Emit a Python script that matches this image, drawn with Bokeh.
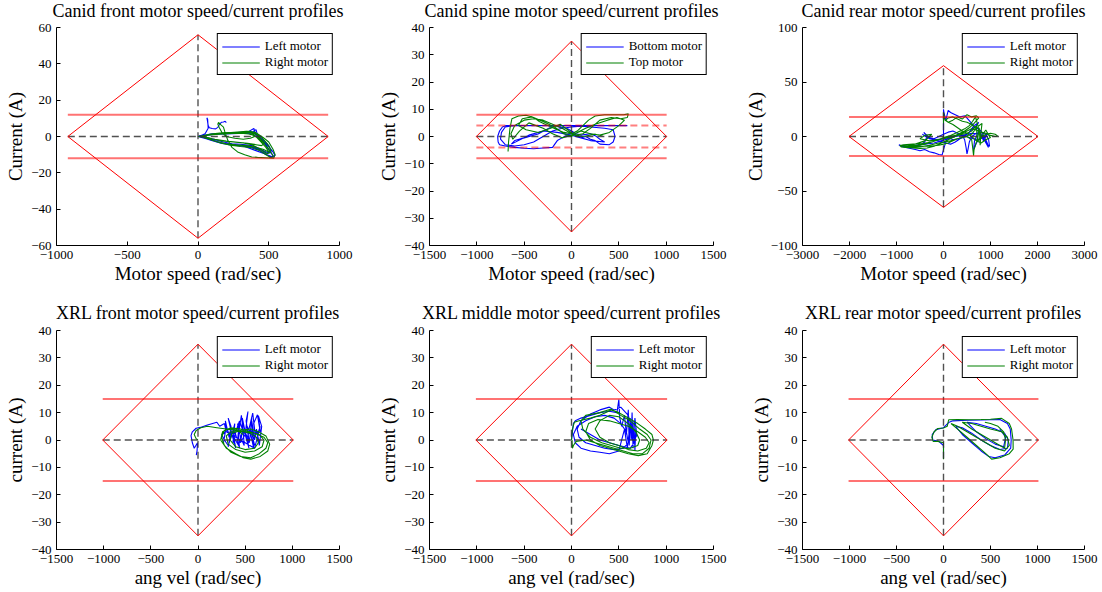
from bokeh.plotting import figure
from bokeh.layouts import column, row
from bokeh.models import Range1d, FixedTicker, CustomJSTickFormatter, Label
from bokeh.embed import file_html
from bokeh.resources import INLINE

# ---------------------------------------------------------------- data
# Canid front motors (speed in rad/s, current in A)
canid_front_left_speed = [200, 192, 180, 165, 150, 140, 125, 100, 80, 72, 66, 63, 68, 72, 50, 10,
                          0, 100, 200, 300, 380, 410, 420, 450, 490, 520, 535, 515, 470, 420, 360, 290, 220, 160, 100, 40,
                          0, 120, 240, 330, 400, 440, 470, 500, 510, 480, 430, 380, 300, 240, 180, 110, 50,
                          10, 150, 260, 350, 395, 405, 430, 455, 500, 530, 545, 520, 470, 400, 330, 260, 200, 140, 70, 0,
                          80, 180, 280, 360, 400, 430, 470, 500, 520, 490, 440, 380, 320, 250, 170, 90, 20]
canid_front_left_current = [7.6, 8.4, 8.0, 7.8, 6.5, 5.0, 4.2, 4.4, 4.8, 6.0, 9.0, 10.3, 9.5, 4.5, 1.5, 0.2,
                            0, 1.5, 1.8, 2.0, 2.2, 3.8, 1.0, -2.0, -6.0, -9.5, -11.3, -11.5, -9.0, -7.0, -5.5, -5.0, -4.5, -3.5, -2.0, -0.5,
                            0, 1.2, 1.6, 1.8, 1.5, -1.0, -3.5, -7.0, -9.0, -8.5, -6.5, -5.0, -4.3, -4.0, -3.0, -1.5, -0.3,
                            0.5, 1.4, 2.0, 2.4, 4.4, 1.5, -0.5, -2.5, -5.5, -8.5, -10.5, -11.0, -9.5, -7.5, -5.5, -4.8, -4.2, -3.2, -1.5, 0,
                            1.0, 1.6, 2.2, 2.6, 2.0, 0.0, -2.5, -5.0, -8.0, -8.8, -7.0, -5.8, -5.2, -4.6, -3.8, -2.0, -0.2]
canid_front_right_speed = [0, 60, 130, 200, 280, 350, 400, 430, 470, 510, 530, 520, 480, 430, 370, 300, 230, 160, 90, 30,
                           0, 70, 150, 240, 320, 380, 410, 440, 480, 505, 490, 440, 380, 320, 250, 170, 100, 40, 20,
                           90, 170, 260, 340, 400, 420, 460, 500, 530, 545, 535, 500, 420, 380, 330, 280, 240, 210, 190,
                           180, 160, 145, 140, 150, 170, 200, 260, 320, 370, 400, 380, 300, 200, 100, 30,
                           110, 210, 300, 370, 415, 450, 490, 515, 500, 460, 400, 340, 270, 200, 130, 60, 10,
                           120, 230, 330, 390, 420, 445, 470, 450, 410, 350, 280, 200, 120, 40]
canid_front_right_current = [0, 0.8, 1.5, 1.8, 2.0, 1.5, 0.5, -1.0, -4.0, -8.0, -10.5, -11.8, -10.0, -7.5, -6.0, -5.5, -4.8, -3.5, -1.8, -0.3,
                             0, 1.0, 1.8, 2.2, 2.5, 2.0, 0.0, -2.5, -6.0, -9.0, -9.5, -7.0, -4.5, -3.5, -3.0, -2.5, -1.2, 0.0, 0.2,
                             1.3, 2.0, 2.3, 2.8, 2.5, 1.5, -0.5, -3.0, -7.0, -10.0, -12.0, -11.8, -11.5, -11.3, -10.0, -8.5, -6.0, -2.0, 2.5,
                             5.2, 6.5, 7.8, 6.8, 5.0, 2.0, 0.0, -1.0, -1.5, -1.0, 0.0, 1.2, 1.8, 1.5, 1.0, 0.3,
                             1.4, 2.1, 2.6, 2.9, 1.8, -0.5, -4.0, -7.5, -8.5, -7.0, -5.8, -5.0, -4.6, -4.0, -2.8, -1.0, 0.1,
                             1.2, 1.9, 2.3, 2.0, 0.8, -1.5, -3.5, -5.0, -4.5, -3.8, -3.2, -2.5, -1.5, -0.4]

# Canid spine motors
canid_spine_bottom_speed = [590, 500, 400, 300, 200, 100, 0, -100, -200, -300, -400, -500, -600, -690, -730, -760, -780, -775, -760,
                            -700, -600, -500, -400, -300, -200, -180, -150, -100, -50, 0, 50, 100, 150, 200, 250, 300, 400, 440, 460,
                            440, 350, 200, 100, 0, -100, -200, -300, -400, -500, -600, -700, -750, -740, -700, -600, -400, -200, -50,
                            0, 50, 100, 200, 250, 300, 350, 200, 100, 0, -150, -300, -450, -635, -600, -500, -353, -194, -100, 0, 150, 300, 450, 580]
canid_spine_bottom_current = [4.0, 4.0, 4.0, 4.0, 4.0, 4.0, 4.0, 4.0, 4.0, 4.0, 4.0, 4.0, 4.0, 4.0, 3.5, 2.0, 0.0, -2.0, -3.0,
                              -3.5, -4.0, -4.3, -4.5, -4.2, -4.0, -3.0, -1.5, -0.5, 0.5, 1.5, 0.5, -0.5, 0.0, -1.0, -1.5, -2.8, -3.0, -2.0, 0.0,
                              2.5, 3.0, 3.5, 3.8, 3.5, 3.0, 2.0, 0.0, -2.0, -3.0, -3.5, -3.0, -1.0, 1.5, 3.5, 4.0, 4.0, 4.0, 3.0,
                              2.0, 1.0, 0.5, 1.0, 0.3, -1.0, -2.0, -1.5, -0.5, 0.5, 1.5, 2.0, 0.5, -2.8, -1.5, -0.5, 0.9, 3.9, 4.0, 4.0, 4.0, 4.0, 4.0, 4.0]
canid_spine_top_speed = [-670, -665, -650, -630, -560, -480, -400, -340, -250, -150, -80, 0, 60, 120, 180, 250, 350, 450, 550, 600,
                         590, 520, 420, 300, 200, 120, 50, -20, -100, -200, -300, -400, -500, -600, -640, -620, -550, -450,
                         -300, -200, -100, 0, 100, 200, 300, 400, 500, 560, 480, 380, 250, 150, 60, 0, -80, -180, -300, -420,
                         -520, -560, -480, -350, -220, -120, -40, 30, 120, 250, 330]
canid_spine_top_current = [-5.5, -2.0, 3.0, 6.5, 7.5, 7.8, 7.0, 5.5, 4.0, 2.5, 1.5, 1.0, 2.0, 4.0, 6.0, 7.5, 8.0, 8.0, 8.0, 8.3,
                           7.0, 6.5, 7.0, 6.0, 3.0, 1.0, 0.5, 1.5, 3.0, 4.5, 6.0, 6.5, 6.0, 4.0, 1.0, -1.0, 2.0, 5.0,
                           3.0, 1.0, -0.5, 0.5, 2.0, 1.0, 0.5, 1.5, 4.0, 6.0, 7.0, 6.0, 4.5, 3.0, 1.5, 0.0, 1.0, 3.5, 5.5, 7.2,
                           6.5, 4.0, 2.5, 1.5, 3.0, 4.5, 2.5, 0.5, 0.0, 0.8, 0.2]

# Canid rear motors
canid_rear_left_speed = [0, 0, 0, 10, 50, 100, 150, 250, 350, 460, 520, 600, 700, 800, 900, 950, 980, 960, 900, 800, 700, 600,
                         550, 520, 500, 480, 450, 400, 300, 200, 100, 0, -100, -200, -300, -420, -350, -400, -500, -600, -700, -800,
                         -900, -950, -900, -800, -700, -600, -500, -400, -300, -200, -100, -30, 0, 50, 100, 200, 300, 400, 500, 600,
                         700, 750, 650, 550, 450, 350, 250, 150, 50, -100, -300, -450, -350, -200, 0, 200, 400, 600, 800, 957, 900, 800,
                         700, 640, 660, 700, 750, 800, 850, 900, 950, 850, 700, 550, 400, 250, 100, -50, -200, -400, -600, -800, -880]
canid_rear_left_current = [0, 10, 25, 22, 15, 24, 22, 20, 18, 19, 16, 12, 8, 5, -3, -8, -9, -3, 2, 4, 3, 0,
                           -5, -12, -16, -10, -3, 1, 3, 5, 4, 2, 0, -2, -1, 3.7, 0, -5, -8, -9, -9.5, -9, -8.5,
                           -7.5, -9, -10, -11, -12, -13, -12, -14, -15, -16.5, -17, -12, -5, -1, -3, -2, -1, 2, 6,
                           10, 13, 10, 4, 0, -2, -5, -7, -6, -4, -2, 2, -1, -3, -2, 0, 1, 3, 2, -10, -4, 0,
                           -6, -12, -4, 0, 5, 2, -4, 0, 3, -1, -3, -1, 1, 0, -2, -4, -6, -7, -8, -9, -8]
canid_rear_right_speed = [0, 0, 0, 30, 100, 200, 300, 400, 500, 600, 700, 750, 650, 550, 450, 350, 250, 150, 50, 0,
                          -100, -250, -400, -550, -700, -850, -920, -900, -800, -650, -500, -350, -200, -100, 0, 100, 200, 300, 400, 500,
                          600, 700, 800, 900, 1000, 1100, 1150, 1100, 1000, 900, 800, 700, 650, 640, 620, 600, 500, 400, 300, 200,
                          100, 0, -100, -300, -500, -700, -850, -800, -600, -400, -300, -250, -400, -500, -300, 0, 300, 500, 600,
                          700, 720, 760, 780, 800, 820, 700, 600,
                          450, 300, 150, 0, -100, -300, -500, -700, -880, -930, -850, -650, -450, -250, -100, 0, 150, 300, 450,
                          550, 620, 680, 720, 760, 800, 850, 900, 950, 1000, 900, 800, 700, 600, 500, 400, 300, 200, 100, 50,
                          100, 200, 300, 400, 500, 600, 700]
canid_rear_right_current = [12, 18, 22, 15, 13, 15, 18, 16, 20, 18, 19, 17, 12, 8, 5, 3, 1, 0, -1, -2,
                            -3, -5, -7, -8, -8.5, -8.5, -8, -9.5, -10, -10.5, -11, -10.5, -9, -7, -5, -3, -1, 1, 3, 5,
                            7, 6, 4, 3, 1, 0, 0.5, 2, 3, 2, -1, -5, -12, -17.5, -10, -3, 0, -1, -2, -4,
                            -6, -7, -8, -9, -9, -9, -10, -9, -7, -4, 0, 2, 1, -2, -4, -2, 1, 3, 5,
                            10, -5, 8, -8, 5, 12, 8, 2,
                            0, -2, -4, -5, -6, -8, -9.5, -10, -9.5, -8.5, -7.5, -7, -6.5, -5, -3, -1, 1, 4, 7,
                            10, 14, 18, 12, 4, -2, 3, 6, 2, -1, -3, -6, -4, 0, 3, 5, 8, 11, 13, 15,
                            17, 18, 16, 14, 13, 11, 7]

# XRL front motors
xrl_front_left_speed = [-18, -10, -5, -40, -60, -74, -60, -20, 25, 100, 200,
                        230, 280, 300, 290, 330, 350, 320, 360, 390, 370,
                        410, 440, 420, 460, 480, 450, 500, 530, 510, 545,
                        570, 540, 580, 610, 590, 630, 660, 640, 675, 650,
                        620, 600, 570, 590, 560, 520, 540, 500, 470, 490,
                        450, 420, 440, 400, 370, 390, 350, 320, 340, 300,
                        270, 290, 250,
                        280, 320, 360, 400, 380, 430, 470, 450, 500, 540,
                        520, 560, 600, 580, 620, 650, 630, 660, 600, 550,
                        500, 450, 400, 350, 300]
xrl_front_left_current = [-5.5, -4.0, -1.0, -3.0, -1.0, 1.6, 3.0, 4.3, 4.6, 5.5, 6.5,
                          5, 6, 3, 7, 1, 5, 8, 2, 6, -1,
                          4, 7, 0, 9, 3, 6, 2, 10.4, 7, -1,
                          8, 4, 9.8, 1, 6, 9.2, 3, 8.9, 5, -2,
                          4, 0, 7, -3, 2, 5, -1, 3, 8, -2,
                          1, 6, -3, 2, 4, -1, 3, -2.5, 1, 5,
                          -1, 3, 2,
                          0, -2, 2, -3, 1, -2, 3, -1, 2, -3,
                          1, 4, -2, 0, 3, -1, 2, 5, -3, -2,
                          -1, 0, 1, 2, 3]
xrl_front_right_speed = [0, -20, -40, -20, 30, 100, 200, 300, 400, 500, 600, 700, 740, 720, 650, 560, 450, 350, 280, 250,
                         280, 350, 450, 550, 650, 700, 680, 600, 500, 400, 320, 300, 350, 450, 550, 620, 640, 600, 500, 400,
                         340, 360, 450, 560, 640, 720, 760, 740, 660, 560, 480, 400, 300, 240, 260, 330, 400, 480]
xrl_front_right_current = [0, 0.5, 2.0, 3.5, 4.5, 5.0, 4.5, 4.0, 3.5, 3.0, 2.5, 1.0, -1.0, -3.0, -5.0, -6.5, -6.0, -4.5, -2.0, 1.0,
                           3.5, 4.5, 4.0, 3.0, 2.0, 0.0, -2.5, -4.0, -4.5, -3.5, -1.5, 1.5, 3.0, 3.2, 2.5, 1.0, -1.0, -3.0, -3.5, -2.5,
                           0.0, 2.5, 3.5, 4.0, 3.0, 1.5, -1.5, -4.0, -6.0, -7.0, -6.5, -5.0, -3.0, 0.0, 3.0, 4.2, 4.0, 2.0]

# XRL middle motors
xrl_middle_left_speed = [0, 10, 20, 40, 100, 200, 300, 400, 480, 500, 510, 530, 560, 580, 600, 610, 620, 630, 640, 650, 660, 670,
                         680, 690, 670, 650, 620, 590, 560, 500, 400, 300, 200, 100, 40, 20, 60, 150, 250, 350, 450, 520, 580,
                         600, 550, 450, 350, 250, 150, 80, 60, 100, 200, 300, 400, 450, 520, 600, 640, 660, 620, 500, 400, 300, 200, 100]
xrl_middle_left_current = [0, 3, 6, 7, 8, 9, 10, 10.5, 10, 14.8, 8, 5, 9, 2, 11, -2, 8, 0, 10, -3, 7, -4,
                           5, 1, 8, -1, 6, -3, 4, -4, -5, -4.5, -4, -3, -1, 2, 5, 7, 8.5, 9, 8, 6, 3,
                           -1, -3, -3.5, -3, -2, -1, 1, 4, 7, 9.5, 11, 12, 11, 12, 9, 4, -1, -3, -2, -1, 0, 2, 4]
xrl_middle_right_speed = [0, 10, 30, 80, 200, 300, 420, 500, 600, 700, 780, 850, 865, 850, 800, 706, 600, 500, 400, 300, 200,
                          150, 180, 280, 400, 500, 600, 700, 780, 820, 790, 700, 600, 500, 400, 300, 250, 300, 400, 500, 600,
                          680, 720, 700, 620, 520, 420, 320, 200, 120, 100, 150, 300, 420, 520, 620, 720, 800, 840, 820, 750,
                          650, 550, 450, 350, 250, 150, 50, 20, 10, 5]
xrl_middle_right_current = [0, 4, 6.5, 7, 8, 9, 11, 10, 8, 6, 4, 2, 0, -2, -5, -5.7, -5, -4, -3, -2, 0,
                            3, 6, 7.5, 7, 6, 5, 3, 1, -1, -3, -4, -3.5, -2, -1, 1, 4, 7, 9, 8.5, 6,
                            3, 0, -2, -3, -3, -2, -1, 1, 4, 7, 9, 10, 11.3, 9, 7, 4, 2, 0, -3, -5,
                            -5, -4, -3, -2, -1, 0, -0.5, -2, -3, 0]

# XRL rear motors
xrl_rear_left_speed = [0, 0, 0, -50, -115, -120, -80, 0, 60, 100, 250, 400, 600, 680, 710, 720, 715, 650, 550, 480, 400,
                       300, 200, 130, 200, 300, 400, 500, 600, 680, 690, 650, 550, 450, 350, 250, 350, 450, 550, 640, 660, 600]
xrl_rear_left_current = [-6.5, -4, -2, -0.5, 0, 2, 3.8, 4.5, 6.5, 7, 7.2, 7.3, 7.5, 6, 4, 0, -3, -5.5, -6.5, -6, -4,
                         -1, 2, 5, 4.5, 2.5, 0, -2, -3.5, -3, 0, 2.5, 4, 5, 6, 6.5, 3, 0.5, -1.5, -2.5, 1, 4]
xrl_rear_right_speed = [0, 0, 0, -60, -110, -124, -100, -60, 0, 40, 55, 150, 265, 400, 500, 618, 700, 724, 740, 741, 700, 600,
                        512, 450, 350, 250, 150, 80, 150, 250, 350, 450, 550, 650, 700, 680, 620, 500, 400, 300, 200, 300,
                        400, 500, 600, 650, 660, 640, 580, 500, 440]
xrl_rear_right_current = [-7, -4, -1, -0.5, -0.5, 1, 3, 4.2, 4.4, 5, 7.4, 7.5, 7.4, 7.5, 7.6, 7.9, 6, 4, 0, -3.3, -5, -6.5,
                          -7, -5, -2, 1, 4, 6, 5, 3, 1, -1, -3, -4, -2, 1, 3, 4, 5, 6, 6.5, 4,
                          2, 0, -2, -3, 0, 3, 5, 6, 6.5]

# operating envelopes: max no-load speed, stall current, continuous current limits
canid_front_envelope = (920, 56, [12], [])
canid_spine_envelope = (1005, 35, [8], [4])
canid_rear_envelope = (2010, 65, [18], [])
xrl_envelope = (1010, 35, [15], [])

# axis ticks
ticks_x_1000 = [-1000, -500, 0, 500, 1000]
ticks_x_1500 = [-1500, -1000, -500, 0, 500, 1000, 1500]
ticks_x_3000 = [-3000, -2000, -1000, 0, 1000, 2000, 3000]
ticks_y_60 = [-60, -40, -20, 0, 20, 40, 60]
ticks_y_40 = [-40, -30, -20, -10, 0, 10, 20, 30, 40]
ticks_y_100 = [-100, -50, 0, 50, 100]

# panel titles
titles_canid = ["Canid front motor speed/current profiles",
                "Canid spine motor speed/current profiles",
                "Canid rear motor speed/current profiles"]
titles_xrl = ["XRL front motor speed/current profiles",
              "XRL middle motor speed/current profiles",
              "XRL rear motor speed/current profiles"]

# ---------------------------------------------------------------- style
SERIF = "Liberation Serif"
BLUE = "#0000ff"
GREEN = "#008000"
RED = "#ff0000"
PAGE_W = 1102

# column geometry: (left border, axes width, right border)
COLS = [(56, 283, 31), (59, 284, 22), (67, 282, 18)]

MINUS_FORMAT = "return tick < 0 ? '\\u2212' + (-tick) : '' + tick;"


def title_strip(texts, height, y_text, size):
    """A bare strip that carries the three titles, centred over each axes box."""
    s = figure(width=PAGE_W, height=height, x_range=Range1d(0, PAGE_W), y_range=Range1d(0, height),
               title=None, tools="", output_backend="svg", toolbar_location=None, min_border=0,
               x_axis_location=None, y_axis_location=None)
    s.xgrid.visible = False
    s.ygrid.visible = False
    s.outline_line_color = None
    x0 = 0
    for (left, w, right), text in zip(COLS, texts):
        s.add_layout(Label(x=x0 + left + w / 2, y=y_text, x_units="screen", y_units="screen",
                           text=text, text_align="center", text_baseline="alphabetic",
                           text_font=SERIF, text_font_size=size, text_color="black"))
        x0 += left + w + right
    return s


def make_panel(col, xlabel, ylabel, xr, yr, xticks, yticks, traces, envelope, top, bottom, fh):
    left, fw, right = COLS[col]
    vmax, imax, solid_limits, dashed_limits = envelope
    p = figure(width=left + fw + right, height=top + fh + bottom,
               x_range=Range1d(*xr), y_range=Range1d(*yr), title=None, tools="",
               output_backend="svg", toolbar_location=None,
               min_border_left=left, min_border_right=right,
               min_border_top=top, min_border_bottom=bottom)
    p.xgrid.visible = False
    p.ygrid.visible = False
    p.outline_line_color = None
    p.background_fill_color = "white"
    p.border_fill_color = "white"

    for ax, label, ticks, standoff in ((p.xaxis[0], xlabel, xticks, 1),
                                       (p.yaxis[0], ylabel, yticks, 2)):
        ax.ticker = FixedTicker(ticks=ticks)
        ax.formatter = CustomJSTickFormatter(code=MINUS_FORMAT)
        ax.axis_label = label
        ax.axis_label_text_font = SERIF
        ax.axis_label_text_font_size = "19px"
        ax.axis_label_text_font_style = "normal"
        ax.axis_label_text_color = "black"
        ax.axis_label_standoff = standoff
        ax.major_label_text_font = SERIF
        ax.major_label_text_font_size = "13px"
        ax.major_label_text_color = "black"
        ax.major_label_standoff = 5
        ax.axis_line_color = "black"
        ax.axis_line_width = 1
        ax.major_tick_line_color = "black"
        ax.major_tick_in = 4
        ax.major_tick_out = 0
        ax.minor_tick_line_color = None

    for xs, ys, color, name in traces:
        p.line(xs, ys, line_color=color, line_width=1.1, legend_label=name)

    # zero axes
    p.segment(x0=[-vmax, 0], y0=[0, -imax], x1=[vmax, 0], y1=[0, imax],
              line_color="#333333", line_width=1.4, line_alpha=0.85, line_dash="7 4")
    # continuous current limits
    for lim in solid_limits:
        p.segment(x0=[-vmax, -vmax], y0=[lim, -lim], x1=[vmax, vmax], y1=[lim, -lim],
                  line_color=RED, line_width=2, line_alpha=0.55)
    for lim in dashed_limits:
        p.segment(x0=[-vmax, -vmax], y0=[lim, -lim], x1=[vmax, vmax], y1=[lim, -lim],
                  line_color=RED, line_width=2, line_alpha=0.5, line_dash="7 4")
    # envelope diamond: left and right halves
    p.multi_line(xs=[[0, -vmax, 0], [0, vmax, 0]], ys=[[imax, 0, -imax], [imax, 0, -imax]],
                 line_color=RED, line_width=1)

    lg = p.legend[0]
    lg.location = "top_right"
    lg.margin = 6
    lg.padding = 4
    lg.spacing = 0
    lg.label_height = 13
    lg.glyph_height = 13
    lg.glyph_width = 38
    lg.label_standoff = 5
    lg.label_text_font = SERIF
    lg.label_text_font_size = "13px"
    lg.label_text_color = "black"
    lg.border_line_color = "black"
    lg.border_line_width = 1
    lg.border_line_alpha = 1
    lg.background_fill_alpha = 1
    return p


# row 1: titles strip 0-20, axes top at 27, axes bottom at 245
t1 = title_strip(titles_canid, 20, 10, "18px")
p1 = make_panel(0, "Motor speed (rad/sec)", "Current (A)",
                (-1000, 1000), (-60, 60), ticks_x_1000, ticks_y_60,
                [(canid_front_left_speed, canid_front_left_current, BLUE, "Left motor"),
                 (canid_front_right_speed, canid_front_right_current, GREEN, "Right motor")],
                canid_front_envelope, 7, 45, 218)
p2 = make_panel(1, "Motor speed (rad/sec)", "Current (A)",
                (-1500, 1500), (-40, 40), ticks_x_1500, ticks_y_40,
                [(canid_spine_bottom_speed, canid_spine_bottom_current, BLUE, "Bottom motor"),
                 (canid_spine_top_speed, canid_spine_top_current, GREEN, "Top motor")],
                canid_spine_envelope, 7, 45, 218)
p3 = make_panel(2, "Motor speed (rad/sec)", "Current (A)",
                (-3000, 3000), (-100, 100), ticks_x_3000, ticks_y_100,
                [(canid_rear_left_speed, canid_rear_left_current, BLUE, "Left motor"),
                 (canid_rear_right_speed, canid_rear_right_current, GREEN, "Right motor")],
                canid_rear_envelope, 7, 45, 218)

# row 2: titles strip 290-323, axes top at 330, axes bottom at 549
t2 = title_strip(titles_xrl, 33, 11, "18px")
p4 = make_panel(0, "ang vel (rad/sec)", "current (A)",
                (-1500, 1500), (-40, 40), ticks_x_1500, ticks_y_40,
                [(xrl_front_left_speed, xrl_front_left_current, BLUE, "Left motor"),
                 (xrl_front_right_speed, xrl_front_right_current, GREEN, "Right motor")],
                xrl_envelope, 7, 43, 219)
p5 = make_panel(1, "ang vel (rad/sec)", "current (A)",
                (-1500, 1500), (-40, 40), ticks_x_1500, ticks_y_40,
                [(xrl_middle_left_speed, xrl_middle_left_current, BLUE, "Left motor"),
                 (xrl_middle_right_speed, xrl_middle_right_current, GREEN, "Right motor")],
                xrl_envelope, 7, 43, 219)
p6 = make_panel(2, "ang vel (rad/sec)", "current (A)",
                (-1500, 1500), (-40, 40), ticks_x_1500, ticks_y_40,
                [(xrl_rear_left_speed, xrl_rear_left_current, BLUE, "Left motor"),
                 (xrl_rear_right_speed, xrl_rear_right_current, GREEN, "Right motor")],
                xrl_envelope, 7, 43, 219)

layout = column(t1, row(p1, p2, p3), t2, row(p4, p5, p6))
open("out.html", "w").write(file_html(layout, INLINE))
